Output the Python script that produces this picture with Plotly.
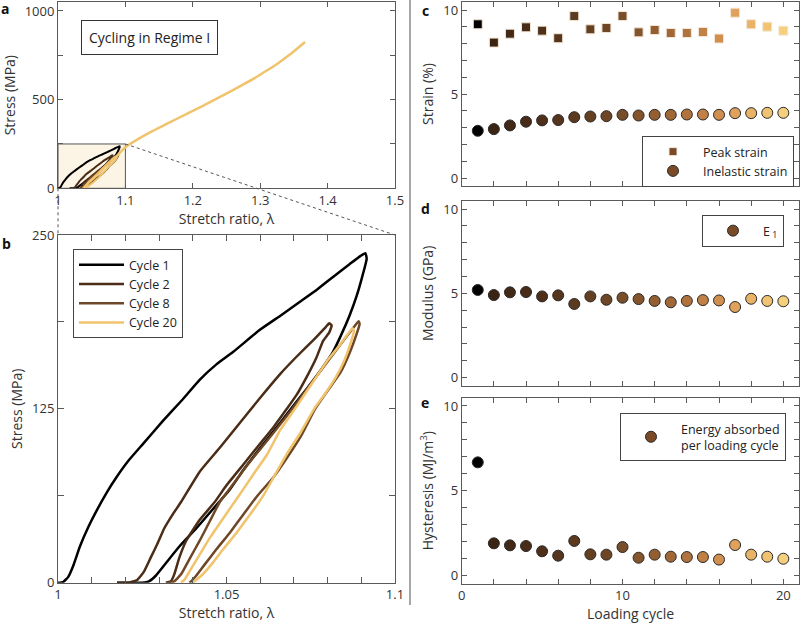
import plotly.graph_objects as go

# ---------------- data ----------------
cycles = list(range(1, 21))
peak_strain = [9.15, 8.06, 8.59, 8.97, 8.77, 8.32, 9.64, 8.85, 8.93, 9.64,
               8.67, 8.81, 8.63, 8.63, 8.69, 8.30, 9.84, 9.15, 9.01, 8.77]
inelastic_strain = [2.81, 2.91, 3.13, 3.35, 3.43, 3.45, 3.62, 3.66, 3.68, 3.76,
                    3.72, 3.76, 3.76, 3.78, 3.78, 3.76, 3.86, 3.86, 3.88, 3.88]
modulus_e1 = [5.20, 4.90, 5.06, 5.08, 4.82, 4.88, 4.37, 4.82, 4.62, 4.74,
              4.66, 4.55, 4.47, 4.55, 4.60, 4.58, 4.19, 4.68, 4.55, 4.53]
hysteresis = [6.67, 1.89, 1.77, 1.73, 1.42, 1.16, 2.03, 1.24, 1.22, 1.67,
              1.04, 1.22, 1.10, 1.08, 1.08, 0.93, 1.79, 1.22, 1.10, 0.98]

c1_stretch = [1.000, 1.0015, 1.003, 1.0045, 1.0065, 1.009, 1.0115, 1.0145, 1.0174, 1.021,
              1.0253, 1.031, 1.0367, 1.0421, 1.047, 1.052, 1.060, 1.066, 1.0718, 1.0770,
              1.0817, 1.0865, 1.0898, 1.0912, 1.0916, 1.0905, 1.0886, 1.0865, 1.0840, 1.0816,
              1.078, 1.074, 1.0688, 1.064, 1.0594, 1.055, 1.051, 1.046, 1.041, 1.036,
              1.032, 1.029, 1.027, 1.025, 1.0175]
c1_stress = [0, 0.5, 4, 12, 26, 40, 52, 65, 76, 88,
             100, 116, 131, 146, 157, 166, 182, 192, 202, 211,
             220, 229, 235, 237, 233, 222, 206, 192, 178, 166,
             153, 140, 124, 109, 95, 81, 67, 53, 39, 26,
             14, 5, 1, 0, 0]

c2_stretch = [1.0175, 1.021, 1.0235, 1.0255, 1.0275, 1.0295, 1.0315, 1.034, 1.0365, 1.0421,
              1.048, 1.054, 1.060, 1.0659, 1.071, 1.076, 1.0795, 1.0805, 1.0812, 1.0805,
              1.0787, 1.0767, 1.0738, 1.0708, 1.0679, 1.064, 1.060, 1.055, 1.050, 1.0465,
              1.042, 1.038, 1.036, 1.0345, 1.0335, 1.032]
c2_stress = [0, 0, 2, 8, 18, 28, 39, 49, 58, 80,
             97, 115, 133, 150, 163, 175, 184, 186.5, 185, 180,
             174, 162, 148, 135, 125, 112, 100, 85, 70, 58,
             45, 30, 18, 6, 1, 0]

c8_stretch = [1.033, 1.0345, 1.0365, 1.039, 1.042, 1.045, 1.048, 1.052, 1.056, 1.060,
              1.065, 1.0698, 1.075, 1.080, 1.085, 1.0885, 1.0892, 1.0895, 1.0885, 1.0865,
              1.084, 1.080, 1.0763, 1.072, 1.068, 1.064, 1.059, 1.055, 1.051, 1.047,
              1.0435, 1.041, 1.0395, 1.039]
c8_stress = [0, 1, 6, 17, 30, 44, 58, 71, 84, 96,
             111, 126, 143, 159, 175, 186, 188, 186, 178, 165,
             152, 138, 125, 105, 90, 76, 62, 49, 36, 24,
             13, 5, 1, 0]

c20_stretch = [1.0365, 1.0375, 1.039, 1.042, 1.045, 1.0495, 1.0535, 1.058, 1.062, 1.066,
               1.0703, 1.075, 1.080, 1.084, 1.0874, 1.0878, 1.0868, 1.085, 1.0825, 1.079,
               1.076, 1.072, 1.068, 1.0645, 1.061, 1.057, 1.053, 1.049, 1.0455, 1.0425,
               1.0405, 1.040]
c20_stress = [0, 2, 8, 20, 32, 48, 62, 78, 92, 110,
              125, 142, 160, 172, 183, 181, 172, 160, 148, 135,
              125, 108, 93, 78, 63, 49, 36, 24, 13, 5,
              1, 0]

final_stretch = [1.040, 1.045, 1.0535, 1.062, 1.0703, 1.080, 1.0874, 1.094, 1.100, 1.12,
                 1.1414, 1.165, 1.191, 1.215, 1.2404, 1.265, 1.2898, 1.305, 1.3245, 1.345,
                 1.3665]
final_stress = [0, 32, 62, 92, 125, 160, 183, 210, 232, 280,
                325, 370, 420, 465, 515, 565, 617, 653, 700, 757,
                825]

cycle_names = ["Cycle 1", "Cycle 2", "Cycle 8", "Cycle 20"]

# ---------------- style ----------------
cycle_colors = ['#000000', '#3c2412', '#422816', '#482c18', '#4e301a', '#55351d', '#5c3a1f',
                '#644022', '#6d4625', '#784d29', '#84552d', '#925e32', '#a06837', '#b0733e',
                '#c08046', '#d08e4f', '#dfa15b', '#e8b366', '#efc372', '#f3cf7e']
loop_colors = ['#000000', '#4a2c17', '#6e4726', '#f0c36c']
legend_brown = '#7a4a26'

W, H = 800, 627
FONT = "Open Sans"
AX = '#5a5a5a'
TXT = '#333333'

dom_left_x = [58 / W, 395 / W]
dom_a_y = [1 - 188.3 / H, 1 - 2.1 / H]
dom_b_y = [1 - 582.7 / H, 1 - 235 / H]
dom_right_x = [461.7 / W, 799.4 / W]
dom_c_y = [1 - 186.4 / H, 1 - 1.6 / H]
dom_d_y = [1 - 386.1 / H, 1 - 200.6 / H]
dom_e_y = [1 - 583.8 / H, 1 - 397.5 / H]

range_a_x = [1, 1.5]
range_a_y = [0, 1050]
range_b_x = [1, 1.1]
range_b_y = [0, 250]


def to_paper(v, rng, dom):
    return dom[0] + (v - rng[0]) / (rng[1] - rng[0]) * (dom[1] - dom[0])


fig = go.Figure()

loops_x = [c1_stretch, c2_stretch, c8_stretch, c20_stretch]
loops_y = [c1_stress, c2_stress, c8_stress, c20_stress]

# panel a
for lx, ly, col in zip(loops_x, loops_y, loop_colors):
    fig.add_trace(go.Scatter(x=lx, y=ly, mode='lines',
                             line=dict(color=col, width=2, shape='spline', smoothing=0.4),
                             showlegend=False, xaxis='x', yaxis='y'))
fig.add_trace(go.Scatter(x=final_stretch, y=final_stress, mode='lines',
                         line=dict(color=loop_colors[3], width=2.5, shape='spline', smoothing=0.5),
                         showlegend=False, xaxis='x', yaxis='y'))

# panel b
for lx, ly, col, name in zip(loops_x, loops_y, loop_colors, cycle_names):
    fig.add_trace(go.Scatter(x=lx, y=ly, mode='lines', name=name,
                             line=dict(color=col, width=2.5, shape='spline', smoothing=0.4),
                             xaxis='x2', yaxis='y2', legend='legend'))

# panel c
fig.add_trace(go.Scatter(x=cycles, y=peak_strain, mode='markers', showlegend=False,
                         marker=dict(symbol='square', size=9, color=cycle_colors,
                                     line=dict(color='#f3e6d6', width=1)),
                         xaxis='x3', yaxis='y3'))
fig.add_trace(go.Scatter(x=cycles, y=inelastic_strain, mode='markers', showlegend=False,
                         marker=dict(symbol='circle', size=11, color=cycle_colors,
                                     line=dict(color='#2a2a2a', width=1)),
                         xaxis='x3', yaxis='y3'))
fig.add_trace(go.Scatter(x=[None], y=[None], mode='markers', name='Peak strain',
                         marker=dict(symbol='square', size=8, color=legend_brown,
                                     line=dict(color='#f3e6d6', width=1)),
                         xaxis='x3', yaxis='y3', legend='legend2'))
fig.add_trace(go.Scatter(x=[None], y=[None], mode='markers', name='Inelastic strain',
                         marker=dict(symbol='circle', size=11, color=legend_brown,
                                     line=dict(color='#2a2a2a', width=1)),
                         xaxis='x3', yaxis='y3', legend='legend2'))

# panel d
fig.add_trace(go.Scatter(x=cycles, y=modulus_e1, mode='markers', showlegend=False,
                         marker=dict(symbol='circle', size=11, color=cycle_colors,
                                     line=dict(color='#2a2a2a', width=1)),
                         xaxis='x4', yaxis='y4'))
fig.add_trace(go.Scatter(x=[None], y=[None], mode='markers', name='E<sub> 1</sub>',
                         marker=dict(symbol='circle', size=11, color=legend_brown,
                                     line=dict(color='#2a2a2a', width=1)),
                         xaxis='x4', yaxis='y4', legend='legend3'))

# panel e
fig.add_trace(go.Scatter(x=cycles, y=hysteresis, mode='markers', showlegend=False,
                         marker=dict(symbol='circle', size=11, color=cycle_colors,
                                     line=dict(color='#2a2a2a', width=1)),
                         xaxis='x5', yaxis='y5'))
fig.add_trace(go.Scatter(x=[None], y=[None], mode='markers',
                         name='Energy absorbed<br>per loading cycle',
                         marker=dict(symbol='circle', size=11, color=legend_brown,
                                     line=dict(color='#2a2a2a', width=1)),
                         xaxis='x5', yaxis='y5', legend='legend4'))

base = dict(showline=True, linecolor=AX, linewidth=1, mirror='ticks', ticks='inside',
            ticklen=5, tickcolor=AX, tickwidth=1, showgrid=False, zeroline=False,
            automargin=False,
            tickfont=dict(size=13, color=TXT, family=FONT),
            title_font=dict(size=14, color=TXT, family=FONT))


def minor(dt, t0=0, ln=5):
    return dict(ticks='inside', dtick=dt, tick0=t0, ticklen=ln, tickcolor=AX, tickwidth=1,
                showgrid=False)


legend_common = dict(xanchor='left', yanchor='top', bgcolor='white', bordercolor='#444',
                     borderwidth=1, font=dict(size=12.5, color='#222', family=FONT))

fig.update_layout(
    template='none',
    width=W, height=H, margin=dict(l=0, r=0, t=0, b=0, autoexpand=False),
    paper_bgcolor='white', plot_bgcolor='white',
    font=dict(family=FONT, color=TXT, size=13),
    xaxis=dict(base, domain=dom_left_x, anchor='y', range=range_a_x,
               tickmode='linear', tick0=1, dtick=0.1,
               title=dict(text='Stretch ratio, λ', standoff=4)),
    yaxis=dict(base, domain=dom_a_y, anchor='x', range=range_a_y,
               tickmode='linear', tick0=0, dtick=500, minor=minor(250),
               title=dict(text='Stress (MPa)', standoff=6)),
    xaxis2=dict(base, domain=dom_left_x, anchor='y2', range=range_b_x,
                tickmode='array', tickvals=[1, 1.05, 1.1], ticktext=['1', '1.05', '1.1'],
                minor=minor(0.01, 1, 6), ticklen=6,
                title=dict(text='Stretch ratio, λ', standoff=4)),
    yaxis2=dict(base, domain=dom_b_y, anchor='x2', range=range_b_y,
                tickmode='linear', tick0=0, dtick=125, minor=minor(62.5, 0, 6), ticklen=6,
                title=dict(text='Stress (MPa)', standoff=6)),
    xaxis3=dict(base, domain=dom_right_x, anchor='y3', range=[0, 21],
                tickmode='linear', tick0=0, dtick=10, minor=minor(2),
                showticklabels=False),
    yaxis3=dict(base, domain=dom_c_y, anchor='x3', range=[-0.5, 10.5],
                tickmode='linear', tick0=0, dtick=5, minor=minor(1),
                title=dict(text='Strain (%)', standoff=6)),
    xaxis4=dict(base, domain=dom_right_x, anchor='y4', range=[0, 21],
                tickmode='linear', tick0=0, dtick=10, minor=minor(2),
                showticklabels=False),
    yaxis4=dict(base, domain=dom_d_y, anchor='x4', range=[-0.5, 10.5],
                tickmode='linear', tick0=0, dtick=5, minor=minor(1),
                title=dict(text='Modulus (GPa)', standoff=6)),
    xaxis5=dict(base, domain=dom_right_x, anchor='y5', range=[0, 21],
                tickmode='linear', tick0=0, dtick=10, minor=minor(2),
                title=dict(text='Loading cycle', standoff=4)),
    yaxis5=dict(base, domain=dom_e_y, anchor='x5', range=[-0.5, 10.5],
                tickmode='linear', tick0=0, dtick=5, minor=minor(1),
                title=dict(text='Hysteresis (MJ/m<sup>3</sup>)', standoff=6)),
    legend=dict(legend_common, x=73 / W, y=1 - 249 / H, itemwidth=45, tracegroupgap=0),
    legend2=dict(legend_common, x=642 / W, y=1 - 136 / H, itemwidth=50),
    legend3=dict(legend_common, x=702 / W, y=1 - 215 / H, itemwidth=50),
    legend4=dict(legend_common, x=620 / W, y=1 - 413 / H, itemwidth=50),
)

# zoom box in panel a
fig.add_shape(type='rect', xref='x', yref='y', x0=1, x1=1.1, y0=0, y1=250,
              fillcolor='#fcf5e6', line=dict(color='#555', width=1), layer='below')

# dotted connectors from zoom box (panel a) to panel b
ax0 = to_paper(1.0, range_a_x, dom_left_x)
ay0 = to_paper(0, range_a_y, dom_a_y)
ax1 = to_paper(1.1, range_a_x, dom_left_x)
ay1 = to_paper(250, range_a_y, dom_a_y)
bx0 = to_paper(1.0, range_b_x, dom_left_x)
bx1 = to_paper(1.1, range_b_x, dom_left_x)
by1 = to_paper(250, range_b_y, dom_b_y)
fig.add_shape(type='line', xref='paper', yref='paper', x0=ax0, y0=ay0, x1=bx0, y1=by1,
              line=dict(color='#555', width=1, dash='dot'))
fig.add_shape(type='line', xref='paper', yref='paper', x0=ax1, y0=ay1, x1=bx1, y1=by1,
              line=dict(color='#555', width=1, dash='dot'))

# divider between left and right columns
fig.add_shape(type='line', xref='paper', yref='paper', x0=410 / W, x1=410 / W,
              y0=1 - 605 / H, y1=1, line=dict(color='#8a8a8a', width=1.5))

# text box
fig.add_annotation(xref='paper', yref='paper', x=149 / W, y=1 - 37 / H,
                   xanchor='center', yanchor='middle',
                   text='Cycling in Regime I', showarrow=False,
                   font=dict(size=14, color='#222', family=FONT),
                   bgcolor='white', bordercolor='#333', borderwidth=1, borderpad=7)

# panel letters
for letter, px, py in [('a', 5, 9), ('b', 6, 243), ('c', 425, 10), ('d', 425, 209), ('e', 425, 402)]:
    fig.add_annotation(xref='paper', yref='paper', x=px / W, y=1 - py / H, text='<b>%s</b>' % letter,
                       showarrow=False, font=dict(size=14, color='#111', family=FONT),
                       xanchor='center', yanchor='middle')

fig.write_html("out.html", config={'displayModeBar': False},
               post_script="document.body.style.margin='0';document.body.style.overflow='hidden';")
